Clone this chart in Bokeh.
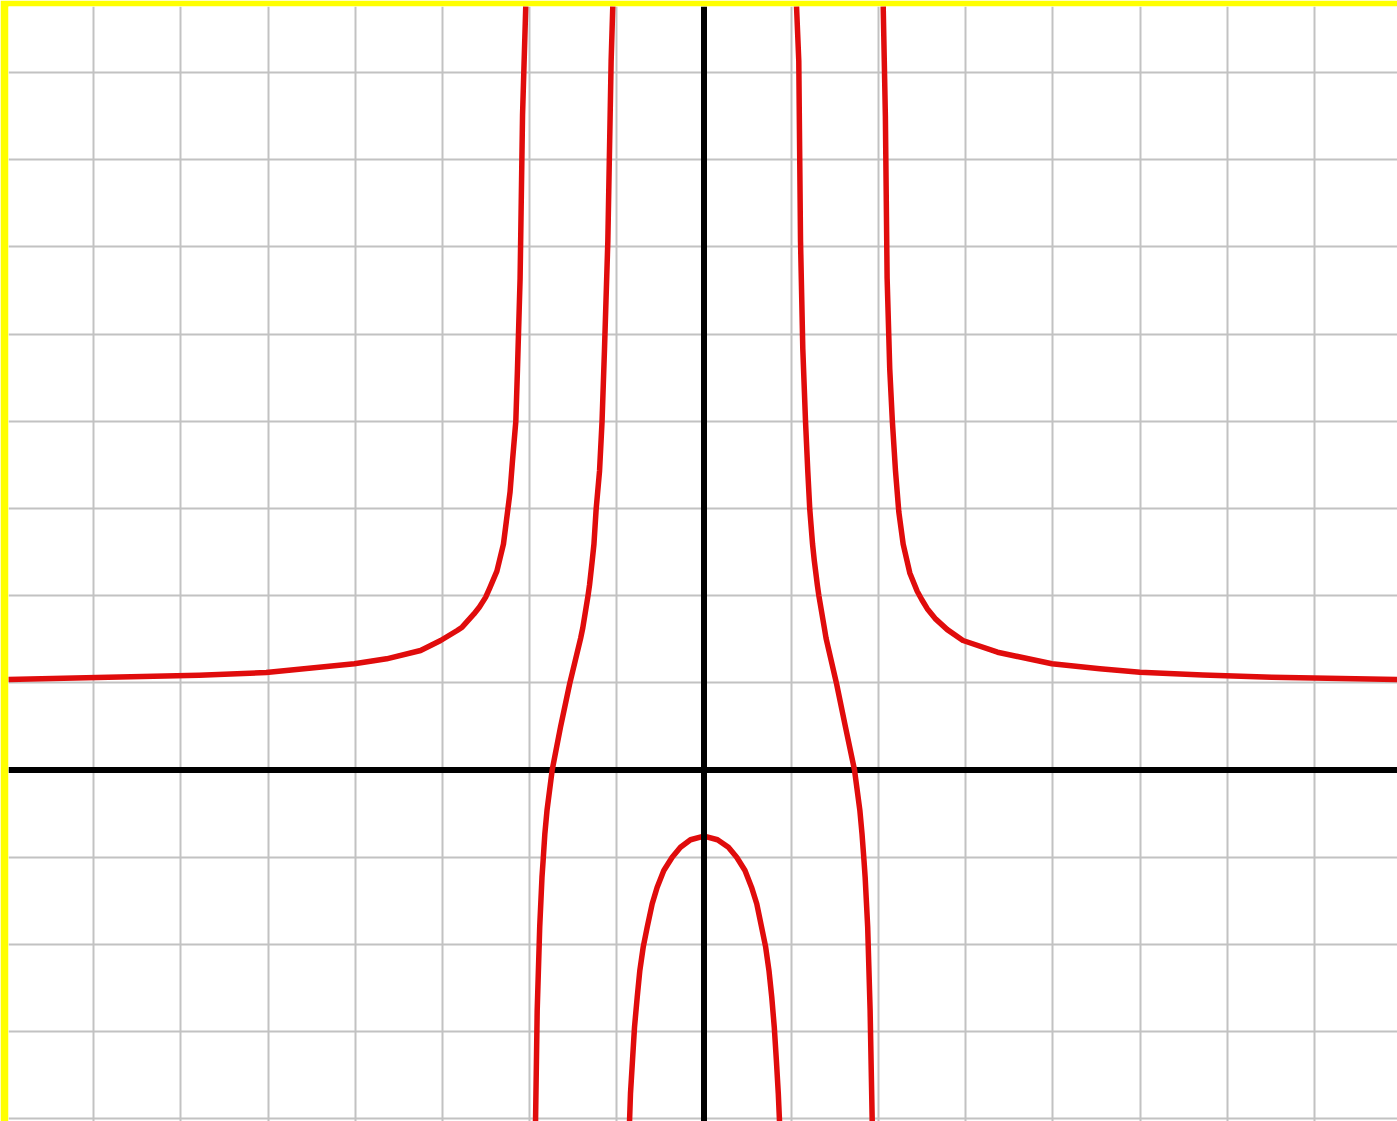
from bokeh.plotting import figure
from bokeh.models import Span, SingleIntervalTicker, Range1d
from bokeh.embed import file_html
from bokeh.resources import INLINE

# --- data ---
outer_left_x = [-7.98, -6.83, -5.79, -5.02, -4.01, -3.64, -3.25, -3.02, -2.83, -2.774,
                -2.638, -2.577, -2.505, -2.46, -2.375, -2.30, -2.253, -2.224, -2.196,
                -2.158, -2.139, -2.109, -2.081, -2.044]
outer_left_y = [1.038, 1.064, 1.087, 1.118, 1.218, 1.275, 1.37, 1.485, 1.60, 1.638,
                1.79, 1.867, 1.98, 2.08, 2.28, 2.59, 2.96, 3.19, 3.55,
                4.0, 4.6, 5.64, 7.51, 8.76]

inner_left_x = [-1.046, -1.065, -1.103, -1.141, -1.169, -1.198, -1.237, -1.262, -1.282,
                -1.313, -1.33, -1.39, -1.415, -1.54, -1.646, -1.741, -1.80, -1.825,
                -1.845, -1.858, -1.884, -1.913, -1.932]
inner_left_y = [8.76, 8.13, 6.06, 4.83, 4.00, 3.43, 2.99, 2.59, 2.40,
                2.12, 2.0, 1.63, 1.51, 0.99, 0.49, 0.0, -0.46, -0.73,
                -1.04, -1.23, -1.80, -2.76, -4.03]

arch_x = [-0.854, -0.843, -0.82, -0.797, -0.766, -0.736, -0.697, -0.651, -0.594,
          -0.537, -0.461, -0.365, -0.27, -0.155, 0.0,
          0.155, 0.28, 0.375, 0.47, 0.545, 0.605, 0.66, 0.707, 0.745, 0.777,
          0.806, 0.83, 0.852, 0.866]
arch_y = [-4.03, -3.71, -3.33, -2.95, -2.605, -2.30, -2.03, -1.80, -1.534,
          -1.344, -1.153, -1.0, -0.885, -0.80, -0.758,
          -0.80, -0.885, -1.0, -1.153, -1.344, -1.534, -1.80, -2.03, -2.30, -2.605,
          -2.95, -3.33, -3.71, -4.03]

inner_right_x = [1.061, 1.087, 1.107, 1.133, 1.164, 1.19, 1.213, 1.245, 1.265,
                 1.30, 1.317, 1.38, 1.40, 1.52, 1.623, 1.726, 1.787, 1.812,
                 1.835, 1.848, 1.877, 1.905, 1.929]
inner_right_y = [8.76, 8.13, 6.06, 4.83, 4.00, 3.43, 2.99, 2.59, 2.40,
                 2.12, 2.0, 1.63, 1.51, 0.99, 0.49, 0.0, -0.46, -0.73,
                 -1.04, -1.23, -1.80, -2.76, -4.03]

outer_right_x = [2.055, 2.08, 2.10, 2.13, 2.16, 2.196, 2.234, 2.284, 2.36, 2.445,
                 2.50, 2.56, 2.658, 2.79, 2.97, 3.366, 3.99, 4.54, 5.0, 5.72,
                 6.51, 7.95]
outer_right_y = [8.76, 7.5, 5.64, 4.60, 4.0, 3.43, 2.96, 2.59, 2.26, 2.05,
                 1.95, 1.85, 1.73, 1.61, 1.485, 1.351, 1.218, 1.16, 1.12, 1.09,
                 1.064, 1.038]

branches = [
    (outer_left_x, outer_left_y),
    (inner_left_x, inner_left_y),
    (arch_x, arch_y),
    (inner_right_x, inner_right_y),
    (outer_right_x, outer_right_y),
]

X_RANGE = (-7.976, 7.953)
Y_RANGE = (-4.031, 8.756)
GRID_STEP = 1

p = figure(width=1397, height=1121, output_backend="svg", toolbar_location=None,
           x_range=Range1d(*X_RANGE), y_range=Range1d(*Y_RANGE),
           x_axis_location=None, y_axis_location=None,
           min_border_left=8, min_border_top=6, min_border_right=0, min_border_bottom=0,
           outline_line_color=None,
           background_fill_color="white", border_fill_color="#ffff00")

p.xgrid.ticker = SingleIntervalTicker(interval=GRID_STEP)
p.ygrid.ticker = SingleIntervalTicker(interval=GRID_STEP)
for g in (p.xgrid, p.ygrid):
    g.grid_line_color = "#c2c2c2"
    g.grid_line_width = 2

# horizontal axis below the curves
p.add_layout(Span(location=0, dimension="width", line_color="black",
                  line_width=6, level="underlay"))

for bx, by in branches:
    p.line(bx, by, line_color="#e00c0c", line_width=5.5, line_join="round")

# vertical axis above the curves
p.add_layout(Span(location=0, dimension="height", line_color="black",
                  line_width=6, level="annotation"))

open("out.html", "w").write(file_html(p, INLINE))
